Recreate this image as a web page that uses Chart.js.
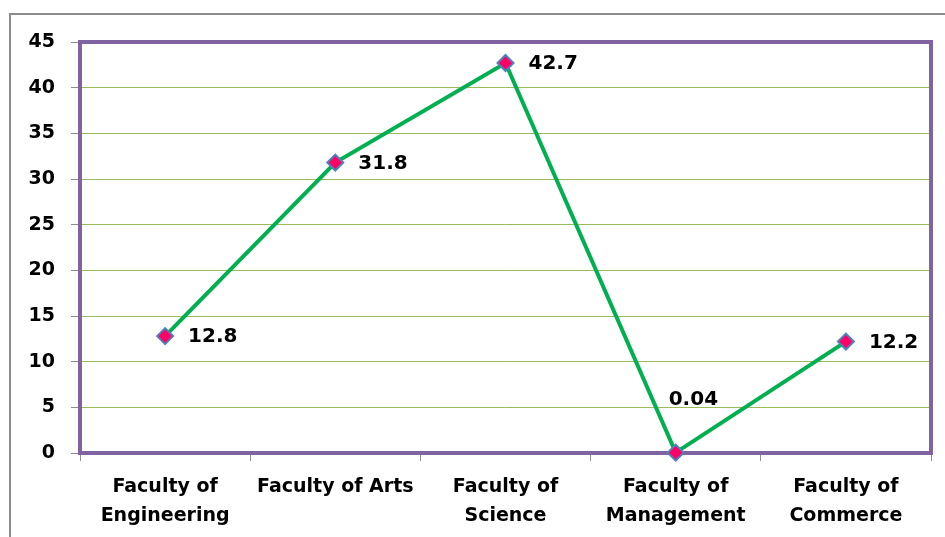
<!DOCTYPE html>
<html>
<head>
<meta charset="utf-8">
<script src="https://cdn.jsdelivr.net/npm/chart.js@4"></script>
<style>
  html, body { margin: 0; padding: 0; background: #fff; }
  #wrap { position: relative; width: 945px; height: 537px; overflow: hidden; }
  #frame { position: absolute; left: 9px; top: 13px; width: 960px; height: 560px;
           border-top: 2px solid #8c8c8c; border-left: 2px solid #8c8c8c; }
  canvas { position: absolute; left: 0; top: 0; }
</style>
</head>
<body>
<div id="wrap">
  <div id="frame"></div>
  <canvas id="line-chart" width="945" height="537"></canvas>
</div>
<script>
// chart data
const faculties = [
    ['Faculty of', 'Engineering'],
    'Faculty of Arts',
    ['Faculty of', 'Science'],
    ['Faculty of', 'Management'],
    ['Faculty of', 'Commerce']
];
const percentages = [12.8, 31.8, 42.7, 0.04, 12.2];
const yTicks = [0, 5, 10, 15, 20, 25, 30, 35, 40, 45];

const FONT = '"DejaVu Sans", sans-serif';

// purple frame around the plot area (drawn under the line and markers)
const plotFrame = {
    id: 'plotFrame',
    beforeDatasetsDraw(chart) {
        const a = chart.chartArea;
        const ctx = chart.ctx;
        ctx.save();
        ctx.strokeStyle = '#8064a2';
        ctx.lineWidth = 4;
        ctx.strokeRect(a.left, a.top, a.right - a.left, a.bottom - a.top);
        ctx.restore();
    }
};

// value labels next to each point
const valueLabels = {
    id: 'valueLabels',
    afterDraw(chart) {
        const ctx = chart.ctx;
        const meta = chart.getDatasetMeta(0);
        ctx.save();
        ctx.font = 'bold 20px ' + FONT;
        ctx.fillStyle = '#000';
        ctx.textBaseline = 'middle';
        ctx.textAlign = 'left';
        meta.data.forEach((pt, i) => {
            const v = percentages[i];
            if (v < 1) {
                ctx.fillText(String(v), pt.x - 7, pt.y - 53);
            } else {
                ctx.fillText(String(v), pt.x + 23, pt.y + 1);
            }
        });
        ctx.restore();
    }
};

const ctx = document.getElementById('line-chart').getContext('2d');
new Chart(ctx, {
    type: 'line',
    data: {
        labels: faculties,
        datasets: [{
            data: percentages,
            borderColor: '#00b050',
            borderWidth: 4,
            tension: 0,
            clip: false,
            pointStyle: 'rectRot',
            pointRadius: 8,
            pointHoverRadius: 8,
            pointBackgroundColor: '#ff0066',
            pointBorderColor: '#4f81bd',
            pointBorderWidth: 2
        }]
    },
    options: {
        responsive: false,
        animation: false,
        events: [],
        layout: { padding: { top: 42, right: 14, left: 0, bottom: 0 } },
        plugins: {
            legend: { display: false },
            tooltip: { enabled: false }
        },
        scales: {
            x: {
                offset: true,
                grid: {
                    offset: true,
                    drawOnChartArea: false,
                    drawTicks: true,
                    tickLength: 8,
                    tickColor: '#8c8c8c'
                },
                border: { display: false },
                ticks: {
                    color: '#000',
                    maxRotation: 0,
                    autoSkip: false,
                    padding: 11,
                    font: { family: FONT, size: 19, weight: 'bold', lineHeight: 1.55 }
                },
                afterFit(scale) { scale.height = 84; }
            },
            y: {
                min: 0,
                max: 45,
                afterBuildTicks(scale) { scale.ticks = yTicks.map(v => ({ value: v })); },
                grid: {
                    color: '#9bbb59',
                    lineWidth: 1,
                    tickLength: 9,
                    tickColor: '#8c8c8c'
                },
                border: { display: false },
                ticks: {
                    color: '#000',
                    padding: 16,
                    font: { family: FONT, size: 19, weight: 'bold' }
                },
                afterFit(scale) { scale.width = 80; }
            }
        }
    },
    plugins: [plotFrame, valueLabels]
});
</script>
</body>
</html>
